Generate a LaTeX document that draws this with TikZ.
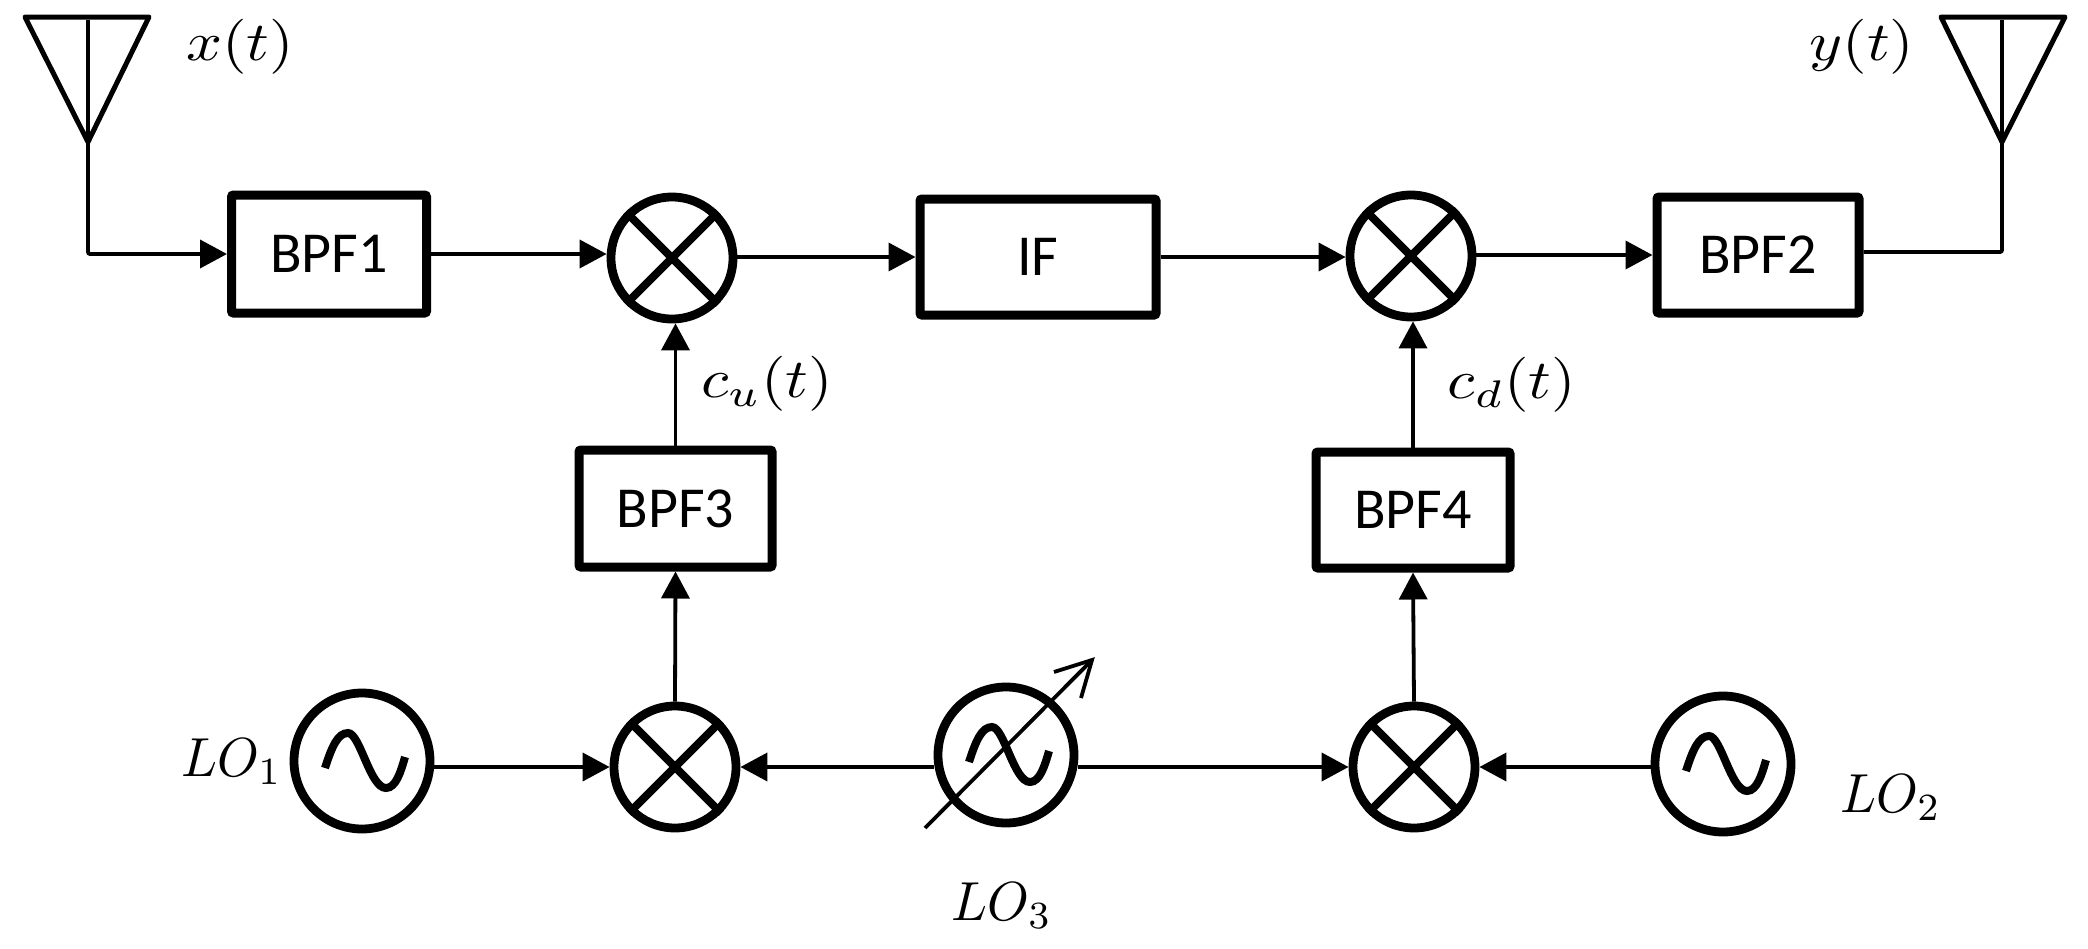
\documentclass[tikz,border=0pt]{standalone}
\usepackage{fontspec}
\setmainfont{Carlito}
\usetikzlibrary{arrows.meta}
\newcommand{\lbl}[1]{\scalebox{3.15}[2.75]{$#1$}}
\newcommand{\lolbl}[1]{\scalebox{2.65}[2.75]{$#1$}}
\newcommand{\wavepath}[1]{\draw[wavestyle,shift={(#1.center)}] (-37,7) .. controls (-30,-15) and (-24,-28) .. (-14,-28) .. controls (-2,-28) and (8,27) .. (24,27) .. controls (34,27) and (39,10) .. (43,-4);}
\tikzset{
  blockbox/.style={draw,line width=4.5pt,rectangle,rounded corners=1pt,outer sep=2.25pt,inner sep=0pt,font=\fontsize{29}{30}\selectfont},
  mixer/.style={draw,line width=4.4pt,circle,minimum size=61pt,outer sep=2.2pt,inner sep=0pt},
  osc/.style={draw,line width=4.4pt,circle,minimum size=68pt,outer sep=2.2pt,inner sep=0pt},
  wire/.style={line width=1.9pt},
  arrowwire/.style={wire,-{Triangle[length=13.5pt,width=14pt]}},
  crossline/.style={line width=4pt},
  wavestyle/.style={line width=4pt},
  horn/.style={line width=2.5pt,line join=round},
  textlabel/.style={inner sep=0pt},
}
\begin{document}
\begin{tikzpicture}[x=0.5pt,y=-0.5pt]
\useasboundingbox (0,0) rectangle (2088,948);
% blocks
\node[blockbox,minimum width=97.5pt,minimum height=59pt] (bpf1) at (329,254) {BPF1};
\node[blockbox,minimum width=118pt,minimum height=58pt] (if) at (1038,257) {IF};
\node[blockbox,minimum width=101pt,minimum height=58pt] (bpf2) at (1758,255) {BPF2};
\node[blockbox,minimum width=96.5pt,minimum height=58.5pt] (bpf3) at (675.5,508.5) {BPF3};
\node[blockbox,minimum width=97pt,minimum height=58pt] (bpf4) at (1413,510) {BPF4};
% mixers
\node[mixer] (m1) at (672,258) {};
\node[mixer] (m2) at (1411,256) {};
\node[mixer] (m3) at (675,767) {};
\node[mixer] (m4) at (1414,767) {};
\foreach \m in {m1,m2,m3,m4}{
  \draw[crossline] (\m.45) -- (\m.225);
  \draw[crossline] (\m.135) -- (\m.315);
}
% oscillators
\node[osc] (lo1) at (362,761) {};
\node[osc] (lo3) at (1006,755) {};
\node[osc] (lo2) at (1723,764) {};
\wavepath{lo1}
\wavepath{lo3}
\wavepath{lo2}
% tunable arrow
\coordinate (tunea) at (925,828);
\coordinate (tuneb) at (1092,660);
\coordinate (tunec) at (1054,672);
\coordinate (tuned) at (1081,698);
\draw[wire] (tunea) -- (tuneb);
\draw[wire,line join=miter] (tunec) -- (tuneb) -- (tuned);
% antennas
\coordinate (a1l) at (25,17);
\coordinate (a1r) at (149,17);
\coordinate (a1p) at (88,142);
\coordinate (a1s) at (88,20);
\coordinate (a2l) at (1941,17);
\coordinate (a2r) at (2065,17);
\coordinate (a2p) at (2002,142);
\coordinate (a2s) at (2002,20);
\draw[horn] (a1l) -- (a1r) -- (a1p) -- cycle;
\draw[wire] (a1s) -- (a1p);
\draw[horn] (a2l) -- (a2r) -- (a2p) -- cycle;
\draw[wire] (a2s) -- (a2p);
% connectors
\draw[arrowwire,rounded corners=1pt] (a1p) |- (bpf1.west);
\draw[arrowwire] (bpf1.east) -- (m1.west |- bpf1.east);
\draw[arrowwire] (m1.east |- if.west) -- (if.west);
\draw[arrowwire] (if.east) -- (m2.west |- if.east);
\draw[arrowwire] (m2.east |- bpf2.west) -- (bpf2.west);
\draw[wire,rounded corners=1pt] (bpf2.east) ++(0,-3) -| (a2p);
\draw[arrowwire] (bpf3.north) -- (m1.south -| bpf3.north);
\draw[arrowwire] (m3.north) -- (bpf3.south);
\draw[arrowwire] (bpf4.north) -- (m2.south -| bpf4.north);
\draw[arrowwire] (m4.north) -- (bpf4.south);
\draw[arrowwire] (lo1.east |- m3.west) -- (m3.west);
\draw[arrowwire] (lo3.west |- m3.east) -- (m3.east);
\draw[arrowwire] (lo3.east |- m4.west) -- (m4.west);
\draw[arrowwire] (lo2.west |- m4.east) -- (m4.east);
% labels
\node[textlabel] (xt) at (240,47) {\lbl{x(t)}};
\node[textlabel] (yt) at (1862,47) {\lbl{y(t)}};
\node[textlabel] (cu) at (767,384) {\lbl{c_u(t)}};
\node[textlabel] (cd) at (1512,385) {\lbl{c_d(t)}};
\node[textlabel] (l1) at (232,762) {\lolbl{LO_1}};
\node[textlabel] (l2) at (1891,798) {\lolbl{LO_2}};
\node[textlabel] (l3) at (1002,906) {\lolbl{LO_3}};
\end{tikzpicture}
\end{document}
